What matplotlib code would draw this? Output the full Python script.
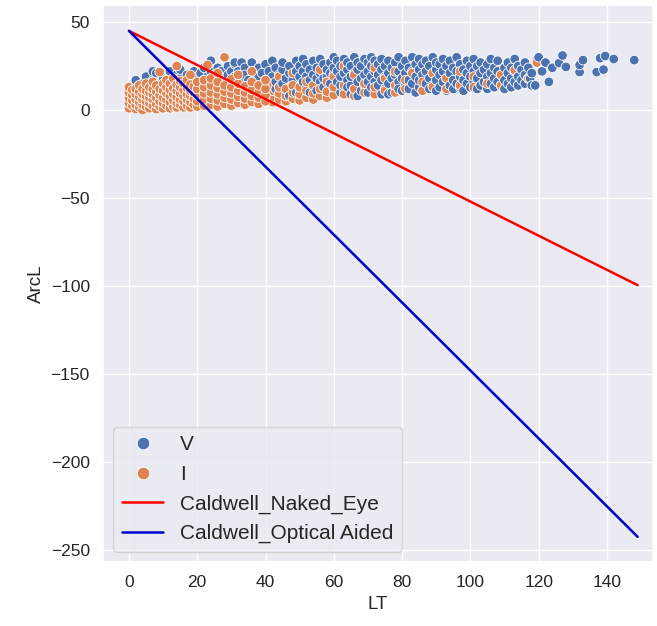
import numpy as np
import pandas as pd
import matplotlib
matplotlib.use("Agg")
import matplotlib.pyplot as plt
import seaborn as sns

# visible crescent observations (LT, ArcL)
v_points = [
    (2, 17), (3, 14), (4, 15), (5, 19), (6, 13), (7, 17), (7, 22), (8, 21), (8, 13), (9, 15), (10, 18),
    (11, 14), (11, 17), (12, 19), (12, 22), (13, 16), (14, 13), (14, 20), (15, 18), (15, 23), (16, 15),
    (16, 12), (17, 20), (18, 13), (18, 17), (19, 22), (19, 11), (20, 15), (20, 19),
    (21, 13), (21, 21), (22, 17), (22, 24), (23, 14), (23, 19), (24, 22), (24, 12), (24, 28), (25, 16),
    (25, 20), (26, 24), (26, 14), (27, 18), (27, 22), (28, 11), (28, 15), (29, 20), (29, 25), (30, 13),
    (30, 17), (30, 22),
    (31, 19), (31, 26), (31, 27), (32, 15), (32, 22), (33, 12), (33, 18), (33, 27), (34, 24), (34, 20),
    (35, 14), (35, 17), (36, 22), (36, 27), (37, 11), (37, 16), (37, 9), (38, 19), (38, 24), (39, 13),
    (39, 21), (40, 17), (40, 26), (40, 10),
    (41, 14), (41, 22), (42, 19), (42, 28), (43, 12), (43, 16), (43, 24), (44, 20), (44, 9), (44, 13),
    (45, 15), (45, 23), (45, 27), (46, 18), (46, 11), (47, 21), (47, 25), (47, 8), (48, 14), (48, 17),
    (49, 22), (49, 28), (49, 10), (50, 12), (50, 19), (50, 25),
    (51, 16), (51, 22), (51, 29), (52, 13), (52, 19), (52, 26), (53, 10), (53, 17), (53, 23), (54, 20),
    (54, 28), (54, 14), (55, 11), (55, 18), (55, 24), (56, 16), (56, 21), (56, 29), (57, 13), (57, 26),
    (57, 18), (58, 19), (58, 23), (58, 9), (59, 15), (59, 27), (59, 21), (60, 12), (60, 20), (60, 24),
    (60, 30),
    (61, 16), (61, 22), (61, 28), (62, 10), (62, 14), (62, 19), (62, 25), (63, 12), (63, 21), (63, 29),
    (64, 17), (64, 23), (64, 27), (64, 13), (65, 9), (65, 14), (65, 19), (65, 25), (66, 12), (66, 21),
    (66, 30), (67, 16), (67, 23), (67, 27), (67, 8), (68, 11), (68, 18), (68, 25), (69, 14), (69, 20),
    (69, 29), (70, 10), (70, 16), (70, 22), (70, 27),
    (71, 13), (71, 19), (71, 25), (71, 30), (72, 11), (72, 16), (72, 22), (72, 28), (73, 14), (73, 20),
    (73, 26), (74, 9), (74, 17), (74, 23), (74, 29), (75, 12), (75, 19), (75, 25), (76, 15), (76, 21),
    (76, 28), (76, 9), (77, 10), (77, 18), (77, 24), (78, 13), (78, 20), (78, 27), (79, 16), (79, 22),
    (79, 30), (79, 12), (80, 11), (80, 18), (80, 25),
    (81, 14), (81, 21), (81, 28), (82, 12), (82, 17), (82, 24), (83, 15), (83, 22), (83, 30), (84, 10),
    (84, 19), (84, 26), (85, 13), (85, 17), (85, 23), (85, 29), (86, 11), (86, 20), (86, 26), (87, 15),
    (87, 22), (87, 28), (88, 12), (88, 18), (88, 25), (89, 14), (89, 21), (89, 30), (90, 11), (90, 17),
    (90, 23), (90, 27),
    (91, 13), (91, 20), (91, 26), (92, 16), (92, 22), (92, 29), (93, 11), (93, 18), (93, 25), (94, 14),
    (94, 21), (94, 28), (95, 12), (95, 17), (95, 24), (96, 15), (96, 22), (96, 30), (97, 13), (97, 19),
    (97, 26), (98, 11), (98, 17), (98, 23), (99, 15), (99, 21), (99, 28), (100, 13), (100, 19), (100, 25),
    (101, 16), (101, 22), (101, 29), (102, 12), (102, 18), (102, 25), (103, 14), (103, 21), (103, 27),
    (104, 16), (104, 23), (105, 12), (105, 19), (105, 26), (106, 15), (106, 21), (106, 29), (107, 13),
    (107, 18), (107, 24), (108, 16), (108, 22), (108, 28), (109, 14), (109, 20), (110, 17), (110, 24),
    (110, 12),
    (111, 15), (111, 21), (111, 27), (112, 13), (112, 18), (112, 24), (113, 16), (113, 22), (113, 29),
    (114, 14), (114, 19), (114, 25), (115, 17), (115, 23), (116, 15), (116, 20), (116, 27), (117, 18),
    (117, 24), (118, 14), (118, 21),
    (119.5, 28.4), (120, 30), (119, 14), (117.5, 18), (121, 22), (122, 27), (123, 16), (124, 24),
    (126, 26.7), (127, 31), (128, 24.5), (132, 21.6), (132, 25.6), (133, 28.4), (137, 21.6),
    (138, 29.5), (139, 23), (139.5, 30.7), (142, 29), (148, 28.4),
]

# invisible crescent observations (LT, ArcL)
i_points = [
    (0, 1), (0, 4), (0, 7), (0, 10), (0, 13), (1, 2.5), (1, 5.5), (1, 8.5), (1, 11.5),
    (2, 0.5), (2, 3), (2, 6), (2, 9), (2, 12), (3, 1.5), (3, 4.5), (3, 7.5), (3, 10.5), (3, 14),
    (4, 0), (4, 3), (4, 6), (4, 9), (4, 12), (5, 2), (5, 5), (5, 8), (5, 11), (5, 15),
    (6, 1), (6, 4), (6, 7), (6, 10), (6, 13), (7, 2.5), (7, 6), (7, 9), (7, 12), (7, 16),
    (8, 0.5), (8, 3.5), (8, 7), (8, 10.5), (8, 14), (9, 2), (9, 5), (9, 8.5), (9, 12), (9, 21.6),
    (10, 1), (10, 4), (10, 7), (10, 11), (10, 15), (11, 2.5), (11, 6), (11, 9.5), (11, 13), (11, 17),
    (12, 1), (12, 4.5), (12, 8), (12, 11.5), (12, 15), (13, 2), (13, 5.5), (13, 9), (13, 12.5), (13, 18),
    (14, 1.5), (14, 4), (14, 7.5), (14, 11), (14, 14.5), (14, 25), (15, 3), (15, 6), (15, 9.5), (15, 13),
    (15, 16.5), (16, 1.5), (16, 5), (16, 8), (16, 11.5), (16, 15), (17, 2.5), (17, 6), (17, 9), (17, 12.5),
    (17, 17), (18, 1.5), (18, 4.5), (18, 8), (18, 11), (18, 14.5), (18, 20), (19, 3), (19, 6.5), (19, 10),
    (19, 13.5), (20, 2), (20, 5), (20, 8.5), (20, 12), (20, 16),
    (22, 2.5), (22, 6), (22, 9.5), (22, 13), (22, 17), (23, 25.6), (24, 3), (24, 6.5), (24, 10), (24, 14),
    (24, 18), (26, 2), (26, 5.5), (26, 9), (26, 12.5), (26, 16), (26, 21), (28, 3.5), (28, 7), (28, 10.5),
    (28, 14), (28, 30), (30, 2.5), (30, 6), (30, 9.5), (30, 13), (30, 17.5), (32, 4), (32, 7.5), (32, 11),
    (32, 15), (32, 20), (34, 3), (34, 6.5), (34, 10), (34, 13.5), (36, 4.5), (36, 8), (36, 11.5), (36, 16),
    (36, 22), (38, 3.5), (38, 7), (38, 10), (38, 14), (40, 5), (40, 8.5), (40, 12), (40, 17),
    (42, 4.5), (42, 7.5), (42, 11), (42, 15), (44, 6), (44, 9.5), (44, 13), (44, 19), (46, 5), (46, 8),
    (46, 12), (48, 6.5), (48, 10), (48, 14), (48, 21), (50, 5.5), (50, 9), (50, 13), (52, 7), (52, 11),
    (52, 16), (54, 6), (54, 9.5), (54, 14), (56, 8), (56, 12), (56, 23), (58, 7), (58, 10.5), (58, 16),
    (60, 8.5), (60, 13), (60, 19), (63, 9), (63, 14), (63, 25), (66, 8), (66, 12), (66, 20), (69, 10),
    (69, 15), (72, 9), (72, 13), (72, 24), (75, 11), (75, 18), (78, 10), (78, 14), (78, 22), (81, 12),
    (81, 17), (83, 21), (86, 11), (86, 16), (89, 21), (89, 13), (93, 12), (93, 18), (97, 14), (97, 22),
    (101, 13), (101, 19), (105, 15), (109, 14), (109, 20), (113, 22.7), (117, 18), (119.5, 27),
]

# Caldwell visibility criteria endpoints
lt_line = [0, 149]
naked_eye = [45, -99.5]
optical_aided = [45, -242.5]

v_df = pd.DataFrame(v_points, columns=["LT", "ArcL"])
v_df["Visibility"] = "V"
i_df = pd.DataFrame(i_points, columns=["LT", "ArcL"])
i_df["Visibility"] = "I"

# draw order: the mixed region sorted by LT, the dense early I block on top
early = i_df["LT"] <= 40
mixed = pd.concat([v_df, i_df[~early]]).sort_values("LT", kind="mergesort")
df = pd.concat([mixed, i_df[early]], ignore_index=True)

sns.set_theme(style="darkgrid")
plt.rcParams["font.family"] = ["Liberation Sans", "DejaVu Sans"]

fig = plt.figure(figsize=(6.57, 6.26), dpi=100)
ax = fig.add_axes([103 / 657, 1 - 562 / 626, (653 - 103) / 657, (562 - 5) / 626])

sns.scatterplot(data=df, x="LT", y="ArcL", hue="Visibility", hue_order=["V", "I"],
                s=48, linewidth=0.6, ax=ax)
ax.plot(lt_line, naked_eye, color="red", lw=1.8, label="Caldwell_Naked_Eye")
ax.plot(lt_line, optical_aided, color="mediumblue", lw=1.8, label="Caldwell_Optical Aided")

ax.set_xlim(-7.6, 153.5)
ax.set_ylim(-256.8, 59.7)
ax.tick_params(labelsize=12.5)
ax.set_xlabel("LT", fontsize=13.5)
ax.set_ylabel("ArcL", fontsize=13.5)

handles, labels = ax.get_legend_handles_labels()
ax.legend(handles, labels, loc="lower left", fontsize=15, title=None, markerscale=1.3)

fig.savefig("out.png", dpi=100)
